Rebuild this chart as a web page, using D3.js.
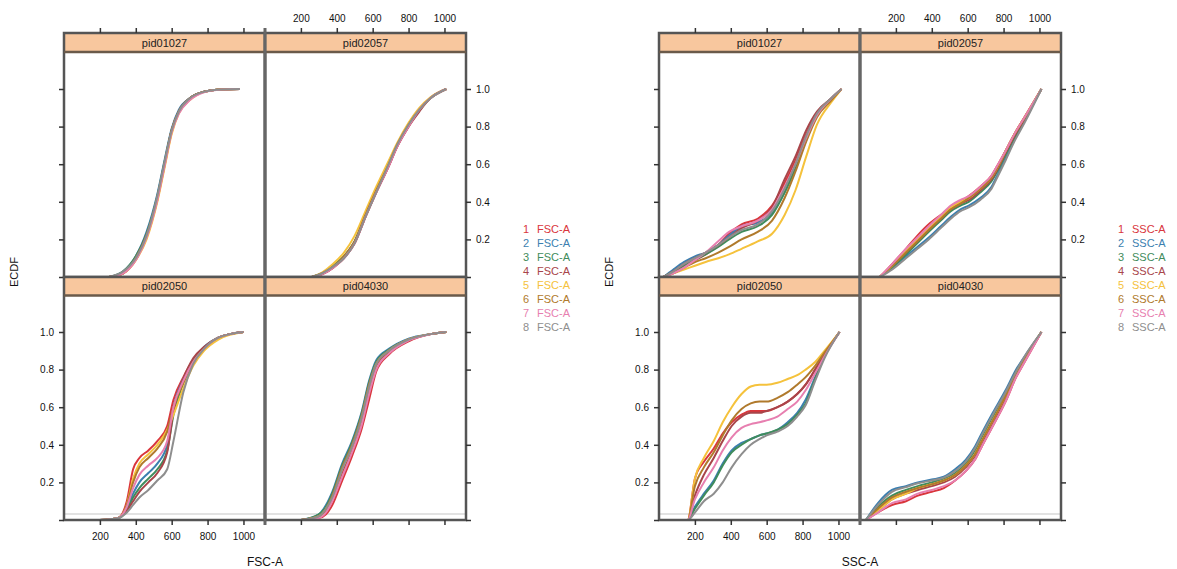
<!DOCTYPE html>
<html><head><meta charset="utf-8">
<script src="https://cdn.jsdelivr.net/npm/d3@7"></script>
<style>body{margin:0;background:#fff;} svg{display:block;font-family:"Liberation Sans",Arial,sans-serif;}</style>
</head><body>
<svg id="c" width="1177" height="569"></svg>
<script>
// ---------- data ----------
const panelNames = ["pid01027", "pid02057", "pid02050", "pid04030"];
const seriesNums = ["1","2","3","4","5","6","7","8"];
const seriesColors = ["#d9363c","#3c7fb0","#3f8c5c","#a8454a","#f5c23c","#b07a2c","#e77fb0","#8e8e8e"];
const xTicks = [200, 400, 600, 800, 1000];
const yTicks = [0, 0.2, 0.4, 0.6, 0.8, 1.0];
const groupLabels = ["FSC-A", "SSC-A"];

// FSC-A panels
const fscX_01027 = [250, 330, 400, 460, 520, 560, 600, 640, 700, 780, 880, 980];
const fscY_01027 = [
  [0,0.02,0.09,0.21,0.41,0.59,0.77,0.88,0.95,0.985,0.998,1],
  [0,0.03,0.11,0.24,0.44,0.62,0.79,0.89,0.95,0.986,0.998,1],
  [0,0.03,0.11,0.23,0.43,0.61,0.78,0.88,0.95,0.985,0.998,1],
  [0,0.02,0.10,0.22,0.42,0.60,0.78,0.88,0.95,0.985,0.998,1],
  [0,0.02,0.09,0.20,0.40,0.58,0.76,0.87,0.94,0.984,0.998,1],
  [0,0.02,0.10,0.22,0.42,0.60,0.78,0.88,0.95,0.985,0.998,1],
  [0,0.02,0.09,0.21,0.41,0.59,0.77,0.87,0.94,0.983,0.997,1],
  [0,0.03,0.10,0.22,0.43,0.61,0.78,0.88,0.95,0.985,0.998,1]];
const fscX_02057 = [260, 320, 380, 440, 500, 560, 620, 680, 740, 800, 860, 920, 1010];
const fscY_02057 = [
  [0,0.015,0.05,0.10,0.18,0.32,0.45,0.57,0.70,0.80,0.89,0.95,1],
  [0,0.020,0.06,0.11,0.19,0.33,0.46,0.58,0.71,0.81,0.89,0.95,1],
  [0,0.020,0.06,0.11,0.19,0.33,0.46,0.58,0.71,0.81,0.89,0.95,1],
  [0,0.015,0.05,0.10,0.18,0.32,0.45,0.57,0.70,0.80,0.88,0.95,1],
  [0,0.025,0.07,0.13,0.22,0.35,0.48,0.60,0.72,0.82,0.90,0.955,1],
  [0,0.020,0.055,0.11,0.19,0.33,0.46,0.58,0.71,0.81,0.89,0.95,1],
  [0,0.015,0.05,0.10,0.18,0.32,0.45,0.57,0.70,0.80,0.89,0.95,1],
  [0,0.020,0.055,0.10,0.18,0.32,0.45,0.58,0.71,0.81,0.89,0.95,1]];
const fscX_02050 = [200, 300, 350, 385, 420, 470, 520, 575, 610, 665, 720, 780, 860, 1000];
const fscY_02050 = [
  [0,0.01,0.10,0.27,0.33,0.37,0.42,0.50,0.64,0.76,0.85,0.91,0.97,1],
  [0,0.01,0.06,0.14,0.20,0.25,0.30,0.40,0.60,0.75,0.85,0.92,0.97,1],
  [0,0.01,0.05,0.12,0.17,0.22,0.27,0.37,0.56,0.73,0.84,0.91,0.97,1],
  [0,0.01,0.05,0.10,0.15,0.20,0.25,0.36,0.58,0.75,0.86,0.92,0.97,1],
  [0,0.01,0.08,0.22,0.30,0.35,0.40,0.48,0.56,0.70,0.82,0.90,0.96,1],
  [0,0.01,0.08,0.20,0.28,0.33,0.38,0.47,0.60,0.73,0.84,0.91,0.97,1],
  [0,0.01,0.07,0.17,0.24,0.29,0.33,0.42,0.60,0.74,0.84,0.91,0.97,1],
  [0,0.01,0.04,0.08,0.12,0.16,0.21,0.27,0.42,0.68,0.83,0.91,0.97,1]];
const fscX_04030 = [200, 300, 340, 375, 430, 485, 540, 580, 620, 690, 800, 930, 1010];
const fscY_04030 = [
  [0,0.01,0.03,0.08,0.21,0.34,0.49,0.64,0.79,0.88,0.95,0.99,1],
  [0,0.03,0.08,0.15,0.30,0.42,0.58,0.74,0.85,0.91,0.965,0.99,1],
  [0,0.03,0.07,0.14,0.29,0.41,0.57,0.73,0.84,0.905,0.96,0.99,1],
  [0,0.02,0.05,0.11,0.25,0.37,0.53,0.69,0.82,0.89,0.955,0.99,1],
  [0,0.02,0.06,0.12,0.27,0.39,0.55,0.71,0.83,0.90,0.96,0.99,1],
  [0,0.02,0.06,0.13,0.28,0.40,0.56,0.72,0.83,0.90,0.96,0.99,1],
  [0,0.01,0.04,0.10,0.23,0.36,0.51,0.67,0.80,0.885,0.955,0.99,1],
  [0,0.02,0.06,0.12,0.27,0.39,0.55,0.71,0.83,0.90,0.96,0.99,1]];

// SSC-A panels
const sscX_01027 = [25, 80, 140, 200, 260, 330, 390, 460, 550, 630, 700, 760, 820, 880, 960, 1017];
const sscY_01027 = [
  [0,0.03,0.06,0.09,0.12,0.17,0.23,0.28,0.31,0.38,0.50,0.62,0.76,0.87,0.95,1],
  [0,0.04,0.08,0.11,0.13,0.17,0.22,0.27,0.29,0.34,0.45,0.58,0.73,0.86,0.95,1],
  [0,0.03,0.06,0.09,0.12,0.16,0.20,0.24,0.27,0.33,0.45,0.58,0.73,0.86,0.95,1],
  [0,0.03,0.07,0.10,0.13,0.17,0.21,0.26,0.30,0.37,0.52,0.64,0.78,0.88,0.95,1],
  [0,0.02,0.04,0.06,0.08,0.10,0.12,0.15,0.19,0.23,0.33,0.46,0.64,0.81,0.93,1],
  [0,0.02,0.05,0.08,0.10,0.13,0.16,0.20,0.24,0.30,0.42,0.56,0.72,0.85,0.94,1],
  [0,0.02,0.05,0.09,0.13,0.19,0.24,0.27,0.30,0.36,0.48,0.60,0.74,0.86,0.95,1],
  [0,0.03,0.07,0.10,0.13,0.17,0.21,0.25,0.28,0.35,0.47,0.60,0.75,0.87,0.95,1]];
const sscX_02057 = [110, 180, 256, 320, 383, 450, 506, 560, 606, 670, 733, 770, 811, 860, 917, 1011];
const sscY_02057 = [
  [0,0.07,0.15,0.22,0.28,0.33,0.37,0.40,0.43,0.48,0.54,0.60,0.67,0.76,0.85,1],
  [0,0.05,0.11,0.16,0.21,0.27,0.32,0.36,0.38,0.42,0.48,0.55,0.63,0.73,0.83,1],
  [0,0.05,0.12,0.18,0.24,0.30,0.35,0.38,0.40,0.45,0.51,0.57,0.65,0.74,0.84,1],
  [0,0.06,0.13,0.19,0.25,0.31,0.36,0.39,0.41,0.46,0.52,0.58,0.66,0.75,0.84,1],
  [0,0.06,0.14,0.20,0.26,0.32,0.37,0.40,0.42,0.47,0.53,0.59,0.67,0.76,0.85,1],
  [0,0.06,0.13,0.19,0.25,0.31,0.36,0.39,0.42,0.47,0.53,0.59,0.67,0.76,0.85,1],
  [0,0.07,0.15,0.21,0.27,0.33,0.38,0.41,0.43,0.48,0.54,0.60,0.67,0.76,0.85,1],
  [0,0.04,0.10,0.15,0.20,0.26,0.31,0.35,0.37,0.41,0.47,0.54,0.62,0.72,0.82,1]];
const sscX_02050 = [25, 160, 200, 250, 305, 355, 405, 460, 511, 560, 600, 660, 717, 770, 817, 870, 922, 1006];
const sscY_02050 = [
  [0,0,0.22,0.31,0.38,0.46,0.52,0.56,0.58,0.58,0.58,0.60,0.63,0.67,0.72,0.80,0.88,1],
  [0,0,0.07,0.14,0.21,0.30,0.37,0.41,0.43,0.45,0.46,0.48,0.52,0.57,0.64,0.76,0.87,1],
  [0,0,0.06,0.13,0.20,0.29,0.36,0.40,0.43,0.45,0.46,0.48,0.51,0.56,0.62,0.75,0.87,1],
  [0,0,0.13,0.24,0.33,0.42,0.50,0.55,0.57,0.57,0.58,0.60,0.63,0.67,0.72,0.80,0.88,1],
  [0,0,0.22,0.33,0.42,0.52,0.60,0.67,0.71,0.72,0.72,0.73,0.75,0.77,0.80,0.84,0.90,1],
  [0,0,0.18,0.28,0.36,0.45,0.53,0.59,0.62,0.63,0.63,0.65,0.68,0.72,0.76,0.82,0.89,1],
  [0,0,0.11,0.20,0.28,0.37,0.44,0.49,0.51,0.52,0.53,0.55,0.59,0.63,0.69,0.78,0.87,1],
  [0,0,0.04,0.10,0.14,0.20,0.28,0.35,0.40,0.43,0.45,0.47,0.50,0.55,0.61,0.74,0.86,1]];
const sscX_04030 = [33, 100, 178, 256, 322, 400, 467, 530, 589, 640, 678, 740, 811, 870, 917, 1011];
const sscY_04030 = [
  [0,0.04,0.08,0.10,0.13,0.15,0.17,0.21,0.26,0.32,0.39,0.50,0.63,0.76,0.84,1],
  [0,0.09,0.16,0.18,0.20,0.215,0.23,0.27,0.32,0.39,0.46,0.57,0.69,0.80,0.87,1],
  [0,0.07,0.13,0.16,0.18,0.20,0.22,0.25,0.30,0.37,0.44,0.55,0.67,0.79,0.86,1],
  [0,0.05,0.11,0.14,0.16,0.18,0.20,0.23,0.28,0.34,0.41,0.52,0.65,0.77,0.85,1],
  [0,0.05,0.11,0.14,0.17,0.19,0.21,0.24,0.29,0.35,0.42,0.53,0.66,0.78,0.86,1],
  [0,0.06,0.12,0.15,0.17,0.19,0.21,0.24,0.29,0.35,0.42,0.53,0.66,0.78,0.86,1],
  [0,0.04,0.09,0.11,0.14,0.16,0.18,0.21,0.26,0.32,0.39,0.50,0.63,0.76,0.84,1],
  [0,0.08,0.15,0.175,0.195,0.21,0.225,0.26,0.31,0.38,0.45,0.56,0.68,0.79,0.87,1]];

// ---------- drawing ----------
const svg = d3.select("#c");
const groups = [
  {dx: 0,   label: groupLabels[0], xs: [fscX_01027, fscX_02057, fscX_02050, fscX_04030], ys: [fscY_01027, fscY_02057, fscY_02050, fscY_04030]},
  {dx: 595, label: groupLabels[1], xs: [sscX_01027, sscX_02057, sscX_02050, sscX_04030], ys: [sscY_01027, sscY_02057, sscY_02050, sscY_04030]}
];
const colLeft = [64, 265], colW = 201;
const rows = [{stripTop: 33, stripBot: 52, bottom: 277}, {stripTop: 277, stripBot: 295.5, bottom: 520}];
const borderCol = "#555";
const fmtX = d3.format("d");

groups.forEach(g => {
  const G = svg.append("g").attr("transform", `translate(${g.dx},0)`);
  for (let p = 0; p < 4; p++) {
    const c = p % 2, r = Math.floor(p / 2);
    const L = colLeft[c], R = L + colW, row = rows[r];
    const x = d3.scaleLinear().domain([0, 1120]).range([L, R]);
    const y = d3.scaleLinear().domain([0, 1]).range([row.bottom, row.bottom - 188]);
    const P = G.append("g");
    if (r === 1) P.append("line").attr("x1", L).attr("x2", R).attr("y1", row.bottom - 6).attr("y2", row.bottom - 6)
      .attr("stroke", "#d8d8d8").attr("stroke-width", 1.5);
    P.append("rect").attr("x", L).attr("y", row.stripTop).attr("width", colW).attr("height", row.stripBot - row.stripTop)
      .attr("fill", "#f8c79e");
    P.append("text").attr("x", (L + R) / 2).attr("y", (row.stripTop + row.stripBot) / 2 + 4)
      .attr("text-anchor", "middle").attr("font-size", 11).attr("fill", "#222").text(panelNames[p]);
    const line = d3.line().x(d => x(d[0])).y(d => y(d[1])).curve(d3.curveMonotoneX);
    const xs = g.xs[p];
    g.ys[p].forEach((ys, s) => {
      P.append("path").attr("d", line(xs.map((v, i) => [v, ys[i]])))
        .attr("fill", "none").attr("stroke", seriesColors[s]).attr("stroke-width", 2);
    });
    P.append("rect").attr("x", L).attr("y", row.stripTop).attr("width", colW).attr("height", row.bottom - row.stripTop)
      .attr("fill", "none").attr("stroke", borderCol).attr("stroke-width", 2.5);
    P.append("line").attr("x1", L).attr("x2", R).attr("y1", row.stripBot).attr("y2", row.stripBot)
      .attr("stroke", "#6a5a4a").attr("stroke-width", 2.5);
    const styleAxis = sel => { sel.select(".domain").remove(); sel.selectAll(".tick line").attr("stroke", "#333").attr("stroke-width", 1.5);
      sel.selectAll("text").attr("font-size", 10).attr("fill", "#111").attr("font-family", "Liberation Sans, Arial, sans-serif"); };
    if (r === 0) {
      const ax = d3.axisTop(x).tickValues(xTicks).tickSize(5).tickPadding(6).tickFormat(c === 0 ? () => "" : fmtX);
      P.append("g").attr("transform", `translate(0,${row.stripTop})`).call(ax).call(styleAxis);
    } else {
      const ax = d3.axisBottom(x).tickValues(xTicks).tickSize(5).tickPadding(8).tickFormat(c === 1 ? () => "" : fmtX);
      P.append("g").attr("transform", `translate(0,${row.bottom})`).call(ax).call(styleAxis);
    }
    if (c === 0) {
      const ay = d3.axisLeft(y).tickValues(yTicks).tickSize(5).tickPadding(5)
        .tickFormat(d => (r === 1 && d > 0) ? d.toFixed(1) : "");
      P.append("g").attr("transform", `translate(${L},0)`).call(ay).call(styleAxis);
    } else {
      const ay = d3.axisRight(y).tickValues(yTicks).tickSize(5).tickPadding(5)
        .tickFormat(d => (r === 0 && d > 0) ? d.toFixed(1) : "");
      P.append("g").attr("transform", `translate(${R},0)`).call(ay).call(styleAxis);
    }
  }
  G.append("line").attr("x1", colLeft[1]).attr("x2", colLeft[1]).attr("y1", 28).attr("y2", 525)
    .attr("stroke", "#666").attr("stroke-width", 3);
  G.append("text").attr("x", colLeft[1]).attr("y", 566).attr("text-anchor", "middle").attr("font-size", 12).attr("fill", "#111").text(g.label);
  G.append("text").attr("transform", "translate(18,272) rotate(-90)").attr("text-anchor", "middle").attr("font-size", 11).attr("fill", "#111").text("ECDF");
  const lg = G.append("g");
  seriesNums.forEach((n, i) => {
    const yy = 233 + i * 14;
    lg.append("text").attr("x", 526).attr("y", yy).attr("text-anchor", "middle").attr("font-size", 11).attr("fill", seriesColors[i]).text(n);
    lg.append("text").attr("x", 537).attr("y", yy).attr("font-size", 11).attr("fill", seriesColors[i]).text(g.label);
  });
});
</script>
</body></html>
